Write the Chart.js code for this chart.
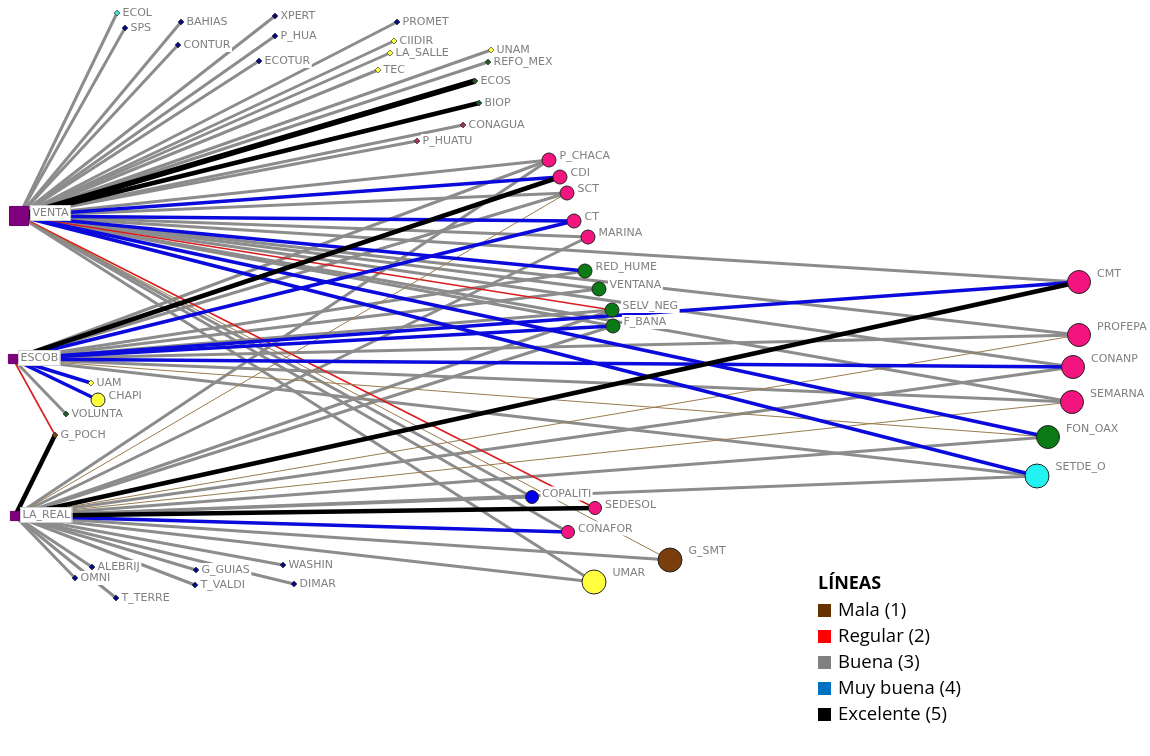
<!DOCTYPE html>
<html>
<head>
<meta charset="utf-8">
<script src="https://cdn.jsdelivr.net/npm/chart.js@4.4.1/dist/chart.umd.min.js"></script>
<style>
  body { margin: 0; background: #fff; }
  #wrap { position: relative; width: 1150px; height: 756px; }
  #legend { position: absolute; left: 818px; top: 569px; font-family: "Open Sans", sans-serif; color: #000; }
  #legend .title { font-weight: bold; font-size: 18px; height: 27px; line-height: 27px; }
  #legend .row { font-size: 18.5px; height: 26px; line-height: 26px; }
  #legend .box { display: inline-block; width: 13px; height: 13px; margin-right: 7px; vertical-align: -1px; }
</style>
</head>
<body>
<div id="wrap">
  <canvas id="net"></canvas>
  <div id="legend"></div>
</div>
<script>
// nodes of the network (layout)
const nodeNames = ['VENTA', 'ESCOB', 'LA_REAL',
  'ECOL', 'SPS', 'BAHIAS', 'CONTUR', 'XPERT', 'P_HUA', 'ECOTUR', 'PROMET', 'CIIDIR', 'LA_SALLE', 'TEC',
  'UNAM', 'REFO_MEX', 'ECOS', 'BIOP', 'CONAGUA', 'P_HUATU',
  'P_CHACA', 'CDI', 'SCT', 'CT', 'MARINA', 'RED_HUME', 'VENTANA', 'SELV_NEG', 'F_BANA',
  'CMT', 'PROFEPA', 'CONANP', 'SEMARNA', 'FON_OAX', 'SETDE_O',
  'UAM', 'CHAPI', 'VOLUNTA', 'G_POCH',
  'COPALITI', 'SEDESOL', 'CONAFOR', 'G_SMT', 'UMAR',
  'ALEBRIJ', 'OMNI', 'T_TERRE', 'G_GUIAS', 'T_VALDI', 'WASHIN', 'DIMAR'];
const nodeX = [19, 13, 15,
  117, 125, 181, 178, 275, 275, 259, 397, 394, 390, 378,
  491, 488, 475, 479, 463, 417,
  549, 560, 567, 574, 588, 585, 599, 612, 613,
  1079, 1079, 1073, 1072, 1048, 1037,
  91, 98, 66, 55,
  532, 595, 568, 670, 594,
  92, 75, 116, 196, 195, 283, 294];
const nodeY = [216, 359, 516,
  13, 28, 22, 45, 16, 36, 61, 22, 41, 53, 70,
  50, 62, 81, 103, 125, 141,
  160, 177, 193, 221, 237, 271, 289, 310, 326,
  282, 335, 367, 402, 437, 476,
  383, 400, 414, 435,
  497, 508, 532, 560, 582,
  567, 578, 598, 570, 585, 565, 584];
// actor type and importance tier
const nodeType = ['hub', 'hub', 'hub',
  'cyan', 'navy', 'navy', 'navy', 'navy', 'navy', 'navy', 'navy', 'yellow', 'yellow', 'yellow',
  'yellow', 'dkgreen', 'dkgreen', 'dkgreen', 'maroon', 'maroon',
  'pink', 'pink', 'pink', 'pink', 'pink', 'green', 'green', 'green', 'green',
  'pink', 'pink', 'pink', 'pink', 'green', 'aqua',
  'yellow', 'yellow', 'dkgreen', 'brown',
  'blue', 'pink', 'pink', 'brown', 'yellow',
  'navy', 'navy', 'navy', 'navy', 'navy', 'navy', 'navy'];
const nodeTier = [3, 1, 1,
  0, 0, 0, 0, 0, 0, 0, 0, 0, 0, 0,
  0, 0, 0, 0, 0, 0,
  2, 2, 2, 2, 2, 2, 2, 2, 2,
  3, 3, 3, 3, 3, 3,
  0, 2, 0, 0,
  2, 2, 2, 3, 3,
  0, 0, 0, 0, 0, 0, 0];

// links: source, target, rating (1 Mala .. 5 Excelente)
const edgeFrom = [
  'VENTA', 'VENTA', 'VENTA', 'VENTA', 'VENTA', 'VENTA', 'VENTA', 'VENTA', 'VENTA', 'VENTA', 'VENTA', 'VENTA', 'VENTA',
  'VENTA', 'VENTA', 'VENTA', 'VENTA',
  'VENTA', 'VENTA', 'VENTA', 'VENTA', 'VENTA', 'VENTA', 'VENTA', 'VENTA', 'VENTA',
  'VENTA', 'VENTA', 'VENTA', 'VENTA', 'VENTA', 'VENTA', 'VENTA',
  'VENTA', 'VENTA', 'VENTA', 'VENTA',
  'ESCOB', 'ESCOB', 'ESCOB', 'ESCOB', 'ESCOB', 'ESCOB', 'ESCOB', 'ESCOB', 'ESCOB', 'ESCOB',
  'ESCOB', 'ESCOB', 'ESCOB', 'ESCOB', 'ESCOB', 'ESCOB', 'ESCOB', 'ESCOB',
  'LA_REAL', 'LA_REAL', 'LA_REAL', 'LA_REAL', 'LA_REAL', 'LA_REAL', 'LA_REAL',
  'LA_REAL', 'LA_REAL', 'LA_REAL', 'LA_REAL', 'LA_REAL', 'LA_REAL', 'LA_REAL', 'LA_REAL',
  'LA_REAL', 'LA_REAL', 'LA_REAL', 'LA_REAL', 'LA_REAL', 'LA_REAL', 'LA_REAL', 'LA_REAL', 'LA_REAL'];
const edgeTo = [
  'ECOL', 'SPS', 'BAHIAS', 'CONTUR', 'XPERT', 'P_HUA', 'ECOTUR', 'PROMET', 'CIIDIR', 'LA_SALLE', 'TEC', 'UNAM', 'REFO_MEX',
  'ECOS', 'BIOP', 'CONAGUA', 'P_HUATU',
  'P_CHACA', 'CDI', 'SCT', 'CT', 'MARINA', 'RED_HUME', 'VENTANA', 'SELV_NEG', 'F_BANA',
  'CMT', 'PROFEPA', 'CONANP', 'SEMARNA', 'FON_OAX', 'SETDE_O', 'SEDESOL',
  'G_SMT', 'UMAR', 'CONAFOR', 'COPALITI',
  'UAM', 'CHAPI', 'VOLUNTA', 'G_POCH', 'CDI', 'CT', 'F_BANA', 'CMT', 'CONANP', 'RED_HUME',
  'VENTANA', 'SELV_NEG', 'PROFEPA', 'SEMARNA', 'FON_OAX', 'SETDE_O', 'SCT', 'P_CHACA',
  'G_POCH', 'ALEBRIJ', 'OMNI', 'T_TERRE', 'G_GUIAS', 'T_VALDI', 'WASHIN',
  'DIMAR', 'CMT', 'SEDESOL', 'CONAFOR', 'SCT', 'PROFEPA', 'SEMARNA', 'FON_OAX',
  'SETDE_O', 'CONANP', 'COPALITI', 'UMAR', 'G_SMT', 'SELV_NEG', 'MARINA', 'P_CHACA', 'F_BANA'];
const edgeRating = [
  3, 3, 3, 3, 3, 3, 3, 3, 3, 3, 3, 3, 3,
  5, 5, 3, 3,
  3, 4, 3, 4, 3, 4, 3, 2, 3,
  3, 3, 3, 3, 4, 4, 2,
  1, 3, 3, 3,
  4, 4, 3, 2, 5, 4, 4, 4, 4, 3,
  3, 3, 3, 3, 1, 3, 3, 3,
  5, 3, 3, 3, 3, 3, 3,
  3, 5, 5, 4, 1, 1, 1, 3,
  3, 3, 3, 3, 3, 3, 3, 3, 3];

const ratingLabels = ['Mala (1)', 'Regular (2)', 'Buena (3)', 'Muy buena (4)', 'Excelente (5)'];
const ratingLegendColors = ['#663300', '#ff0000', '#808080', '#0070c0', '#000000'];

// drawing styles
const lineColor = { 1: '#9a7b4f', 2: '#d81e1e', 3: '#8c8c8c', 4: '#0a0adc', 5: '#000000' };
const lineWidth = { 1: 1, 2: 1.6, 3: 3, 4: 3.6, 5: 4.6 };
const lineOrder = { 1: 3, 2: 4, 3: 6, 4: 2, 5: 1 };
const typeColor = {
  hub: '#800080', navy: '#0a0a80', cyan: '#40e0d0', yellow: '#ffff40', dkgreen: '#1e5a2a',
  maroon: '#a0305a', pink: '#f4147f', green: '#0a7a14', aqua: '#22f2f2', blue: '#0000ee', brown: '#7a3e0c'
};
const tierRadius = [3, 6.5, 7, 11.5];

function idx(name) { return nodeNames.indexOf(name); }

const datasets = [];
edgeFrom.forEach((src, i) => {
  const a = idx(src), b = idx(edgeTo[i]);
  const r = edgeRating[i];
  datasets.push({
    type: 'scatter',
    data: [{ x: nodeX[a], y: nodeY[a] }, { x: nodeX[b], y: nodeY[b] }],
    showLine: true,
    borderColor: lineColor[r],
    borderWidth: (src === 'VENTA' && edgeTo[i] === 'ECOS') ? 5.5 : lineWidth[r],
    pointRadius: 0,
    order: lineOrder[r],
    clip: false
  });
});

const radius = nodeTier.map((t, i) => {
  if (nodeType[i] === 'hub') return t === 3 ? 13.5 : 6.5;
  if (nodeNames[i] === 'SETDE_O' || nodeNames[i] === 'UMAR' || nodeNames[i] === 'G_SMT') return 12;
  if (nodeNames[i] === 'COPALITI' || nodeNames[i] === 'SEDESOL' || nodeNames[i] === 'CONAFOR') return 6.5;
  return tierRadius[t];
});

datasets.push({
  type: 'scatter',
  data: nodeNames.map((n, i) => ({ x: nodeX[i], y: nodeY[i] })),
  pointStyle: nodeType.map((t, i) => t === 'hub' ? 'rect' : (nodeTier[i] === 0 ? 'rectRot' : 'circle')),
  pointRadius: radius,
  pointBackgroundColor: nodeType.map(t => typeColor[t]),
  pointBorderColor: nodeType.map(t => t === 'hub' ? '#6a006a' : '#222'),
  pointBorderWidth: nodeType.map((t, i) => nodeTier[i] === 0 ? 0.6 : 1),
  order: 0,
  clip: false
});

const nodeLabels = {
  id: 'nodeLabels',
  afterDatasetsDraw(chart) {
    const ctx = chart.ctx;
    const xs = chart.scales.x, ys = chart.scales.y;
    ctx.save();
    ctx.font = '11px "DejaVu Sans", sans-serif';
    ctx.textBaseline = 'middle';
    nodeNames.forEach((name, i) => {
      const px = xs.getPixelForValue(nodeX[i]);
      const py = ys.getPixelForValue(nodeY[i]);
      const r = radius[i];
      const isHub = nodeType[i] === 'hub';
      let lx, ly;
      if (isHub) {
        lx = px + (r > 10 ? 13 : 7);
        ly = py - (r > 10 ? 3 : 1);
      } else if (nodeTier[i] === 0) {
        lx = px + 5;
        ly = py;
      } else {
        lx = px + r + (nodeTier[i] === 3 ? 6 : 3);
        ly = py - Math.max(0, r - 3);
      }
      const w = ctx.measureText(name).width;
      ctx.fillStyle = '#ffffff';
      ctx.fillRect(lx - 1, ly - 7, w + 3, 14);
      if (isHub) {
        ctx.strokeStyle = '#d0d0d0';
        ctx.lineWidth = 1;
        ctx.strokeRect(lx - 1.5, ly - 7.5, w + 4, 15);
      }
      ctx.fillStyle = '#808080';
      ctx.fillText(name, lx + 0.5, ly + 0.5);
    });
    ctx.restore();
  }
};

new Chart(document.getElementById('net'), {
  type: 'scatter',
  data: { datasets: datasets },
  options: {
    responsive: true,
    maintainAspectRatio: false,
    animation: false,
    layout: { padding: 0, autoPadding: false },
    plugins: { legend: { display: false }, tooltip: { enabled: false } },
    scales: {
      x: { type: 'linear', min: 0, max: 1150, display: false },
      y: { type: 'linear', min: 0, max: 756, reverse: true, display: false }
    }
  },
  plugins: [nodeLabels]
});

// legend of link ratings
let html = '<div class="title">LÍNEAS</div>';
ratingLabels.forEach((label, i) => {
  html += '<div class="row"><span class="box" style="background:' + ratingLegendColors[i] + '"></span>' + label + '</div>';
});
document.getElementById('legend').innerHTML = html;
</script>
</body>
</html>
